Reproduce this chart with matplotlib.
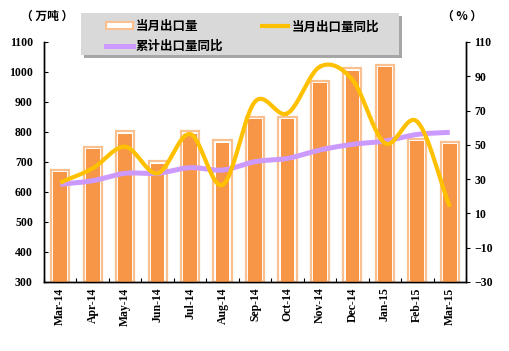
import matplotlib
matplotlib.use("Agg")
import matplotlib.pyplot as plt
import numpy as np
from matplotlib.lines import Line2D
from matplotlib.patches import Rectangle

months = ["Mar-14", "Apr-14", "May-14", "Jun-14", "Jul-14", "Aug-14", "Sep-14",
          "Oct-14", "Nov-14", "Dec-14", "Jan-15", "Feb-15", "Mar-15"]
export_vol = [674, 749, 802, 702, 802, 772, 849, 849, 969, 1012, 1025, 778, 766]
export_yoy = [28.0, 36.3, 48.9, 33.4, 56.3, 26.6, 75.2, 68.4, 95.6, 88.0, 51.0, 63.5, 13.9]
cum_yoy = [27.0, 29.1, 33.4, 33.4, 36.7, 35.3, 40.2, 42.1, 47.0, 50.3, 52.2, 56.1, 57.3]

CJK = ["Noto Sans CJK SC", "DejaVu Sans"]
TICK_FONT = dict(family="Liberation Serif", weight="bold", size=8.5)


def smooth(x, y, n=24):
    # catmull-rom drawing of the line, like the spreadsheet "smoothed line"
    x = np.asarray(x, float)
    y = np.asarray(y, float)
    px = np.concatenate([[2 * x[0] - x[1]], x, [2 * x[-1] - x[-2]]])
    py = np.concatenate([[2 * y[0] - y[1]], y, [2 * y[-1] - y[-2]]])
    xs, ys = [], []
    t = np.linspace(0, 1, n)
    for i in range(1, len(px) - 2):
        for p, out in ((px, xs), (py, ys)):
            p0, p1, p2, p3 = p[i - 1], p[i], p[i + 1], p[i + 2]
            out.extend(0.5 * (2 * p1 + (-p0 + p2) * t
                              + (2 * p0 - 5 * p1 + 4 * p2 - p3) * t ** 2
                              + (-p0 + 3 * p1 - 3 * p2 + p3) * t ** 3))
    return xs, ys


fig = plt.figure(figsize=(5.09, 3.51), dpi=100)
W, H = 509, 351
ax = fig.add_axes([44 / W, 1 - 282 / H, (466 - 44) / W, (282 - 42) / H])
ax2 = ax.twinx()

x = np.arange(len(months))
ax.bar(x, np.array(export_vol) - 300, bottom=300, width=0.56, color="white",
       edgecolor="#FAC090", linewidth=1.6, zorder=2)
ax.bar(x, np.array(export_vol) - 307, bottom=300, width=0.42, color="#F79646",
       linewidth=0, zorder=3)

sx, sy = smooth(x, cum_yoy)
ax2.plot(sx, sy, color="#CC99FF", lw=3.6, solid_capstyle="butt", zorder=4)
sx, sy = smooth(x, export_yoy)
ax2.plot(sx, sy, color="#FFC000", lw=3.0, solid_capstyle="butt", zorder=5)

ax.set_xlim(-0.5, len(months) - 0.5)
ax.set_ylim(300, 1100)
ax.set_yticks(range(300, 1101, 100))
ax2.set_ylim(-30, 110)
ax2.set_yticks(range(-30, 111, 20))

ax.set_xticks(np.arange(-0.5, len(months), 1), minor=False)
ax.set_xticklabels([])
ax.set_xticks(x, minor=True)
ax.set_xticklabels(months, minor=True, rotation=90, **TICK_FONT)
ax.tick_params(axis="x", which="major", direction="in", length=3, width=0.8)
ax.tick_params(axis="x", which="minor", length=0, pad=4)
ax.tick_params(axis="y", direction="in", length=3, width=0.8, pad=8)
ax2.tick_params(axis="y", direction="out", length=3, width=0.8, pad=3)
for lab in ax.get_yticklabels() + ax2.get_yticklabels():
    lab.set_fontproperties(matplotlib.font_manager.FontProperties(**TICK_FONT))

for a in (ax, ax2):
    a.spines["top"].set_visible(False)
    for s in ("left", "right", "bottom"):
        a.spines[s].set_linewidth(1.0)
ax.patch.set_visible(False)
ax2.patch.set_visible(False)

fig.text(47 / W, 1 - 16 / H, "（ 万吨 ）", family=CJK, weight="bold", size=8.5,
         ha="center", va="center")
fig.text(462 / W, 1 - 16 / H, "（ % ）", family=CJK, weight="bold", size=8.5,
         ha="center", va="center")

# legend box with shadow
lx0, ly0, lx1, ly1 = 81, 13, 399, 55
fig.patches.append(Rectangle(((lx0 + 3) / W, 1 - (ly1 + 3) / H), (lx1 - lx0) / W,
                             (ly1 - ly0) / H, transform=fig.transFigure,
                             facecolor="#A6A6A6", edgecolor="none", zorder=1))
fig.patches.append(Rectangle((lx0 / W, 1 - ly1 / H), (lx1 - lx0) / W,
                             (ly1 - ly0) / H, transform=fig.transFigure,
                             facecolor="#D9D9D9", edgecolor="none", zorder=2))
handles = [
    Rectangle((0, 0), 1, 1, facecolor="white", edgecolor="#FAC090", linewidth=1.5),
    Line2D([], [], color="#CC99FF", lw=3.6),
    Line2D([], [], color="#FFC000", lw=3.0),
]
labels = ["当月出口量", "累计出口量同比", "当月出口量同比"]
leg = fig.legend(handles, labels, loc="upper left", ncol=2, frameon=False,
                 bbox_to_anchor=(100 / W, 1 - 14 / H), borderpad=0,
                 handlelength=2.1, handleheight=0.5, handletextpad=0.25,
                 columnspacing=3.1, labelspacing=0.5,
                 prop=dict(family=CJK, weight="bold", size=9))
leg.set_zorder(3)

fig.savefig("out.png", dpi=100)
